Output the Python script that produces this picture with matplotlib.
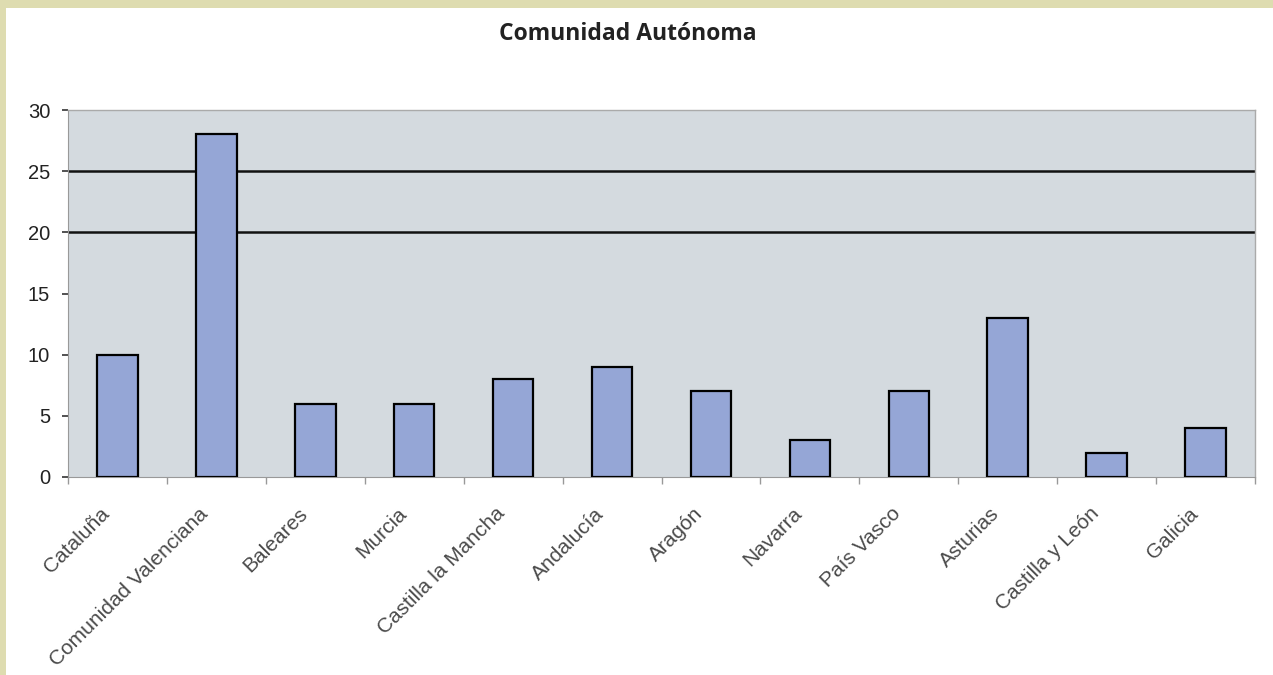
import matplotlib
matplotlib.use("Agg")
import matplotlib.pyplot as plt
import matplotlib.transforms as mtransforms
from matplotlib.patches import Rectangle
import numpy as np

categories = ["Cataluña", "Comunidad Valenciana", "Baleares", "Murcia",
              "Castilla la Mancha", "Andalucía", "Aragón", "Navarra",
              "País Vasco", "Asturias", "Castilla y León", "Galicia"]
values = [10, 28, 6, 6, 8, 9, 7, 3, 7, 13, 2, 4]
yticks = [0, 5, 10, 15, 20, 25, 30]
ref_lines = [20, 25]
title = "Comunidad Autónoma"

W, H, dpi = 1273, 675, 100
fig = plt.figure(figsize=(W / dpi, H / dpi), dpi=dpi, facecolor="#dedcb0")
fig.add_artist(Rectangle((6 / W, 0), 1 - 6 / W, 1 - 8 / H,
                         transform=fig.transFigure, facecolor="white",
                         edgecolor="none", zorder=-10))

ax = fig.add_axes([68 / W, 1 - 477 / H, (1255 - 68) / W, (477 - 110) / H])
ax.set_facecolor("#d4dadf")

x = np.arange(len(categories))
ax.bar(x, values, width=0.41, color="#95a6d6", edgecolor="black",
       linewidth=1.6, zorder=3)
for v in ref_lines:
    ax.axhline(v, color="#111111", linewidth=1.8, zorder=2)

ax.set_xlim(-0.5, len(categories) - 0.5)
ax.set_ylim(0, 30)
ax.set_yticks(yticks)
ax.set_yticklabels([str(t) for t in yticks], fontsize=14.5, color="#222222",
                   family="Liberation Sans")
ax.tick_params(axis="y", length=4.3, width=1.2, color="#333333", pad=8.5)

ax.set_xticks(x)
ax.set_xticklabels(categories, rotation=45, ha="right", va="baseline",
                   rotation_mode="anchor", fontsize=15, color="#4a4a4a",
                   family="Liberation Sans")
ax.tick_params(axis="x", length=0, pad=25)
# nudge the rotated labels a little left/down like the original
shift = mtransforms.ScaledTranslation(-0.07, -0.03, fig.dpi_scale_trans)
for lbl in ax.get_xticklabels():
    lbl.set_transform(lbl.get_transform() + shift)
ax.set_xticks(np.arange(len(categories) + 1) - 0.5, minor=True)
ax.tick_params(axis="x", which="minor", length=5, width=1, color="#999999")

for side in ["top", "right"]:
    ax.spines[side].set_color("#aaaaaa")
    ax.spines[side].set_linewidth(1)
ax.spines["left"].set_color("#999999")
ax.spines["bottom"].set_color("#999999")

fig.text(628 / W, 1 - 34 / H, title, ha="center", va="center",
         fontsize=16.5, fontweight="bold", color="#222222", family="Open Sans")

fig.savefig("out.png", dpi=dpi, facecolor=fig.get_facecolor())
